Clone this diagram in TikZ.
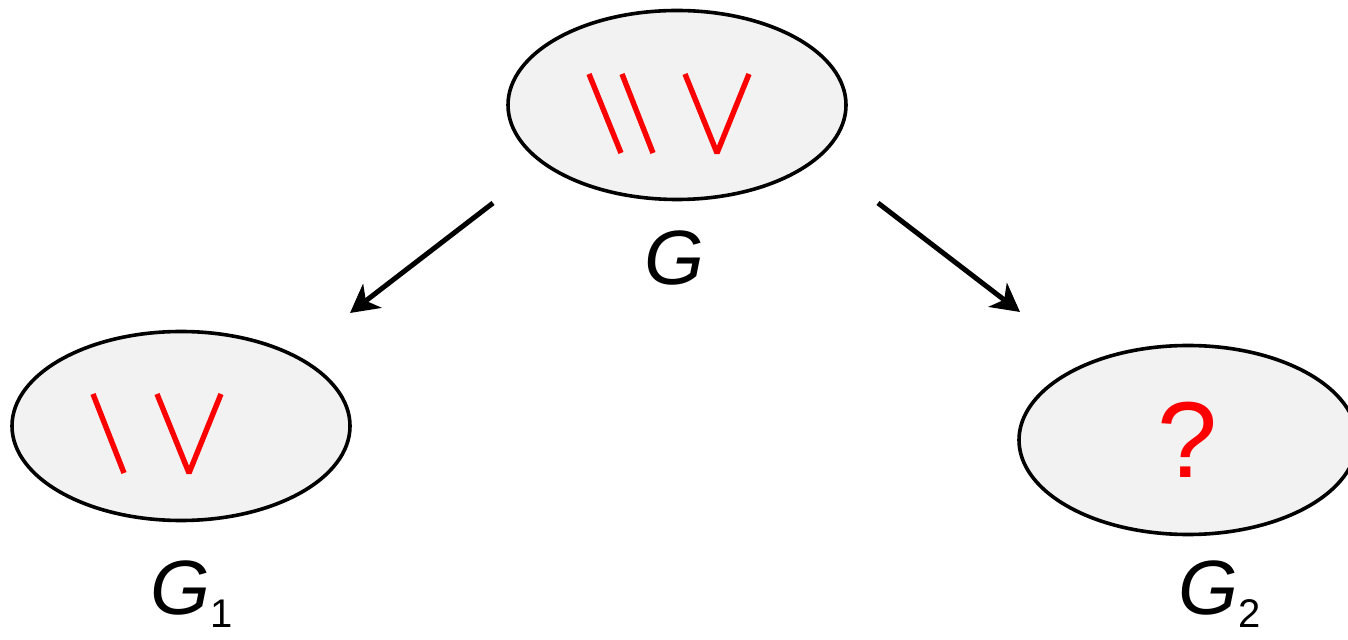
\documentclass[tikz,border=0pt]{standalone}
\usepackage{fontspec}
\setmainfont{Liberation Sans}
\usetikzlibrary{shapes.geometric, arrows.meta}
\definecolor{blobgray}{HTML}{F2F2F2}
\newcommand{\lowsub}[1]{\raisebox{-6.5pt}{\fontsize{20}{20}\selectfont\upshape #1}}

\begin{document}
\begin{tikzpicture}[x=0.5pt, y=-0.5pt,
        blob/.style={ellipse, draw=black, line width=1.8pt, fill=blobgray,
            inner sep=0pt, minimum width=169pt, minimum height=94.5pt},
        redstroke/.style={draw=red, line width=2.7pt, line join=bevel},
        link/.style={line width=2.5pt, -{Stealth[length=14pt, width=15pt, inset=4pt]}},
        glabel/.style={font=\fontsize{38.5}{40}\selectfont\itshape, inner sep=0pt}]
    \useasboundingbox (0,0) rectangle (1348,640);

    \node[blob] (top) at (677,105) {};
    \node[blob] (left) at (181,426) {};
    \node[blob, text=red, font=\fontsize{54}{54}\selectfont] (right) at (1188,440) {?};

    % strokes inside the ellipses
    \begin{scope}[shift={(top)}]
        \draw[redstroke] (-88,-31) -- (-56,48);
        \draw[redstroke] (-55,-31) -- (-24,48);
        \draw[redstroke] (8,-31) -- (40,48) -- (72,-31);
    \end{scope}
    \begin{scope}[shift={(left)}]
        \draw[redstroke] (-88,-32) -- (-57,47);
        \draw[redstroke] (-24,-32) -- (8,47) -- (40,-32);
    \end{scope}

    \node[glabel, anchor=base] (gtop) at (674,285) {G};
    \node[glabel, anchor=base west] (gleft) at (150,614) {G\lowsub{1}};
    \node[glabel, anchor=base west] (gright) at (1178,614) {G\lowsub{2}};

    \coordinate (from1) at (493,203);
    \coordinate (to1) at (350,313);
    \coordinate (from2) at (878,203);
    \coordinate (to2) at (1020,312);
    \draw[link] (from1) -- (to1);
    \draw[link] (from2) -- (to2);
\end{tikzpicture}
\end{document}
